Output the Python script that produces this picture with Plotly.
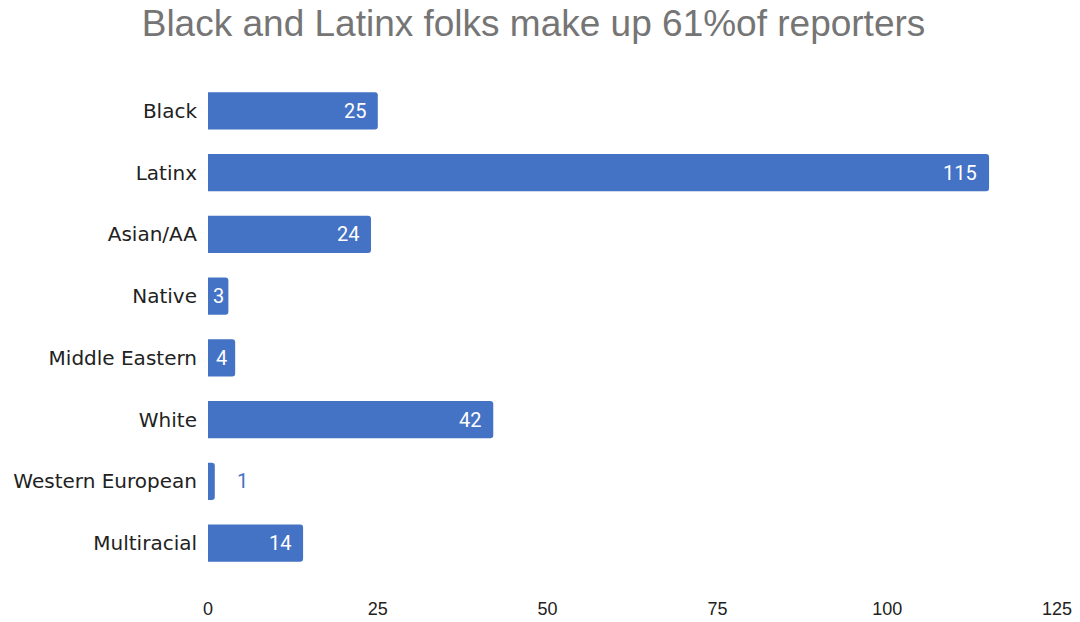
import plotly.graph_objects as go

categories = ["Black", "Latinx", "Asian/AA", "Native", "Middle Eastern", "White",
              "Western European", "Multiracial"]
values = [25, 115, 24, 3, 4, 42, 1, 14]
x_ticks = [0, 25, 50, 75, 100, 125]
title_text = "Black and Latinx folks make up 61%of reporters"

bar_color = "#4472c4"
label_font = "Roboto, Arial, sans-serif"

fig = go.Figure(go.Bar(
    y=categories,
    x=values,
    orientation="h",
    marker=dict(color=bar_color, cornerradius=3, line=dict(width=0)),
    hoverinfo="x+y",
    cliponaxis=False,
    width=0.6,
))

for cat, v in zip(categories, values):
    if v >= 10:
        fig.add_annotation(x=v, y=cat, text=str(v), showarrow=False,
                           xanchor="right", xshift=-10,
                           font=dict(family=label_font, size=20, color="white"))
    elif v >= 3:
        fig.add_annotation(x=v / 2, y=cat, text=str(v), showarrow=False,
                           xanchor="center",
                           font=dict(family=label_font, size=20, color="white"))
    else:
        fig.add_annotation(x=v, y=cat, text=str(v), showarrow=False,
                           xanchor="left", xshift=20,
                           font=dict(family=label_font, size=20, color=bar_color))

fig.update_layout(
    width=1080, height=622,
    margin=dict(l=208, r=23, t=80, b=48),
    paper_bgcolor="white",
    plot_bgcolor="white",
    title=dict(text=title_text, x=0.494, xanchor="center", y=0.963, yanchor="middle",
               font=dict(family="Liberation Sans, Arial, sans-serif", size=37, color="#757575")),
    showlegend=False,
)
fig.update_xaxes(range=[0, 125], tickvals=x_ticks, showgrid=False, zeroline=False,
                 showline=False, ticks="outside", ticklen=18, tickcolor="rgba(0,0,0,0)",
                 automargin=False,
                 tickfont=dict(family="Liberation Sans, Arial, sans-serif", size=18, color="#222222"))
fig.update_yaxes(autorange="reversed", showgrid=False, zeroline=False, showline=False,
                 ticks="outside", ticklen=6, tickcolor="rgba(0,0,0,0)", automargin=False,
                 tickfont=dict(family="DejaVu Sans, sans-serif", size=20, color="#222222"))

fig.write_html("out.html")
